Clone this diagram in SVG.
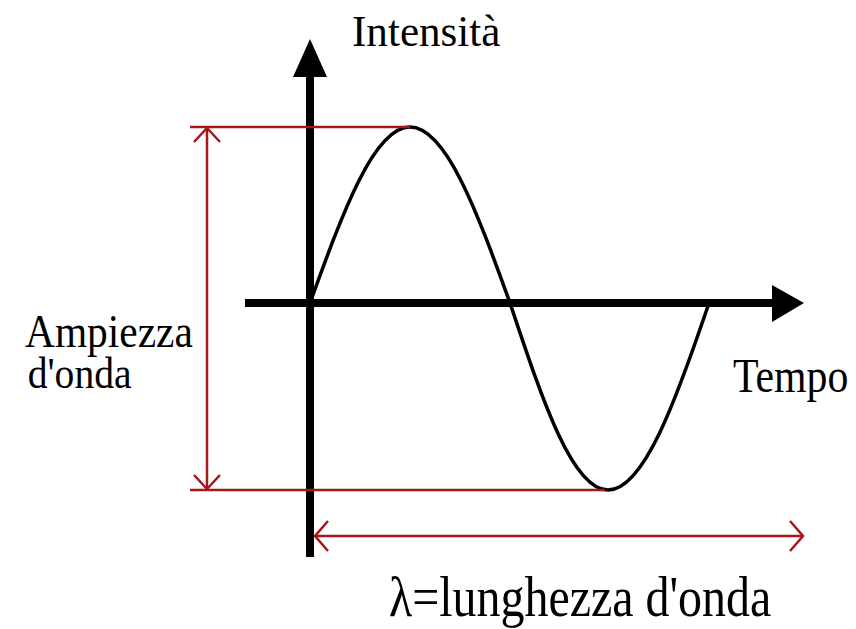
<svg xmlns="http://www.w3.org/2000/svg" width="856" height="629" viewBox="0 0 856 629">
<style>
.ax{stroke:#000;stroke-width:8;fill:none}
.hd{fill:#000}
.wave{stroke:#000;stroke-width:3.5;fill:none}
.red{stroke:#a8161b;stroke-width:2.5;fill:none}
.t{font-family:"Liberation Serif","Times New Roman",serif;fill:#000}
</style>
<rect width="856" height="629" fill="#fff"/>
<g id="connectors">
<g id="y-axis">
<line class="ax" x1="310" y1="72" x2="310" y2="557"/>
<polygon class="hd" points="310,39 293,77 327,77"/>
</g>
<g id="x-axis">
<line class="ax" x1="245" y1="303" x2="776" y2="303"/>
<polygon class="hd" points="804,303 772,285 772,322"/>
</g>
<g id="wave">
<path class="wave" d="M310,303 C342.6,212.8 373.8,127 410,127 C446.2,127 477.4,212.8 510,303 C542,398.8 572,490 608,490 C644,490 676.6,398.8 709,303"/>
</g>
<g id="amplitude">
<line class="red" x1="190" y1="127" x2="410" y2="127"/>
<line class="red" x1="190" y1="490" x2="605" y2="490"/>
<line class="red" x1="207" y1="128" x2="207" y2="489"/>
<polyline class="red" points="194,142 207,128 220,142"/>
<polyline class="red" points="194,475 207,489 220,475"/>
</g>
<g id="wavelength">
<line class="red" x1="315" y1="536" x2="803" y2="536"/>
<polyline class="red" points="328,521 315,536 328,551"/>
<polyline class="red" points="790,521 803,536 790,551"/>
</g>
</g>
<g id="label-intensita">
<text class="t" transform="translate(352,46) scale(0.98,1)" font-size="44">Intensità</text>
</g>
<g id="label-ampiezza">
<text class="t" transform="translate(25,347) scale(0.9,1)" font-size="46"><tspan x="0" y="0">Ampiezza</tspan><tspan x="3" y="41" font-size="44">d'onda</tspan></text>
</g>
<g id="label-tempo">
<text class="t" transform="translate(733,392) scale(0.87,1)" font-size="48">Tempo</text>
</g>
<g id="label-lambda">
<text class="t" transform="translate(389,616) scale(0.856,1)" font-size="56">λ=lunghezza d'onda</text>
</g>
</svg>
